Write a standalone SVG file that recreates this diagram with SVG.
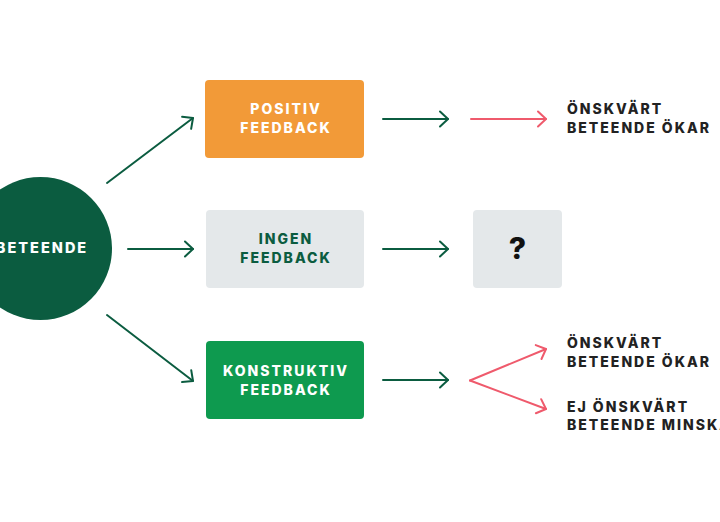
<svg xmlns="http://www.w3.org/2000/svg" width="720" height="522" viewBox="0 0 720 522">
<defs>
<style>
.t{font-family:Inter,"Liberation Sans",sans-serif;font-weight:800;font-size:14px;letter-spacing:2px}
.c{text-anchor:middle}
.w{fill:#ffffff}
.g{fill:#0b5c40}
.k{fill:#222222}
.ln{fill:none;stroke-width:2;stroke-linecap:round}
.gl{stroke:#0b5c40}
.rl{stroke:#ef5a6c}
</style>
<marker id="ag" markerWidth="14" markerHeight="20" refX="11" refY="10" orient="auto" markerUnits="userSpaceOnUse">
<path d="M3,2.5 L11,10 L3,17.5" fill="none" stroke="#0b5c40" stroke-width="2" stroke-linecap="round" stroke-linejoin="round"/>
</marker>
<marker id="ar" markerWidth="14" markerHeight="20" refX="11" refY="10" orient="auto" markerUnits="userSpaceOnUse">
<path d="M3,2.5 L11,10 L3,17.5" fill="none" stroke="#ef5a6c" stroke-width="2" stroke-linecap="round" stroke-linejoin="round"/>
</marker>
</defs>
<rect width="720" height="522" fill="#ffffff"/>
<g id="beteende">
<circle cx="40.5" cy="248.5" r="71.5" fill="#0b5c40"/>
<text class="t c w" x="42" y="253" style="font-size:14.5px">BETEENDE</text>
</g>
<g id="positiv">
<rect x="205" y="80" width="159" height="78" rx="4" fill="#f29a38"/>
<text class="t c w" x="286" y="114">POSITIV</text>
<text class="t c w" x="286" y="133">FEEDBACK</text>
</g>
<g id="ingen">
<rect x="206" y="210" width="158" height="78" rx="4" fill="#e4e8ea"/>
<text class="t c g" x="286" y="244">INGEN</text>
<text class="t c g" x="286" y="263">FEEDBACK</text>
</g>
<g id="fraga">
<rect x="473" y="210" width="89" height="78" rx="4" fill="#e4e8ea"/>
<text x="517.5" y="259" text-anchor="middle" style="font-family:Inter,'Liberation Sans',sans-serif;font-weight:800;font-size:30px" fill="#111111">?</text>
</g>
<g id="konstruktiv">
<rect x="206" y="341" width="158" height="78" rx="4" fill="#0e9a4f"/>
<text class="t c w" x="286" y="376">KONSTRUKTIV</text>
<text class="t c w" x="286" y="395">FEEDBACK</text>
</g>
<g id="okar1">
<text class="t k" x="567" y="114">ÖNSKVÄRT</text>
<text class="t k" x="567" y="133">BETEENDE ÖKAR</text>
</g>
<g id="okar2">
<text class="t k" x="567" y="348">ÖNSKVÄRT</text>
<text class="t k" x="567" y="367">BETEENDE ÖKAR</text>
</g>
<g id="minskar">
<text class="t k" x="567" y="412">EJ ÖNSKVÄRT</text>
<text class="t k" x="567" y="430">BETEENDE MINSKAR</text>
</g>
<g id="connectors">
<line class="ln gl" x1="107" y1="183" x2="193" y2="118" marker-end="url(#ag)"/>
<line class="ln gl" x1="128" y1="249" x2="193" y2="249" marker-end="url(#ag)"/>
<line class="ln gl" x1="107" y1="315" x2="193" y2="381" marker-end="url(#ag)"/>
<line class="ln gl" x1="383" y1="119" x2="448" y2="119" marker-end="url(#ag)"/>
<line class="ln gl" x1="383" y1="249" x2="448" y2="249" marker-end="url(#ag)"/>
<line class="ln gl" x1="383" y1="380" x2="448" y2="380" marker-end="url(#ag)"/>
<line class="ln rl" x1="471" y1="119" x2="546" y2="119" marker-end="url(#ar)"/>
<line class="ln rl" x1="470" y1="380.5" x2="546" y2="349" marker-end="url(#ar)"/>
<line class="ln rl" x1="470" y1="380.5" x2="546" y2="409" marker-end="url(#ar)"/>
</g>
</svg>
